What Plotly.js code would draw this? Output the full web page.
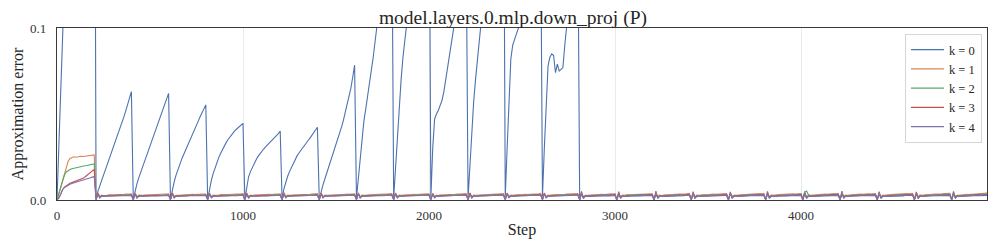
<!DOCTYPE html>
<html>
<head>
<meta charset="utf-8">
<script src="https://cdn.plot.ly/plotly-3.0.1.min.js"></script>
<style>html,body{margin:0;padding:0;background:#fff;}#chart{width:997px;height:249px;}</style>
</head>
<body>
<div id="chart"></div>
<script>
// Step grid (every 10 steps, 0..5000)
var steps = [];
for (var s = 0; s <= 5000; s += 10) steps.push(s);

var seriesNames = ['k = 0', 'k = 1', 'k = 2', 'k = 3', 'k = 4'];
var seriesColors = ['#4C72B0', '#DD8452', '#55A868', '#C44E52', '#8172B3'];

// k = 0
var k0Vals = [
0,.031,.063,.094,.125,.16,.19,.22,.24,.26,.27,.28,.29,.3,.305,.31,.315,.32,.325,.33,.335,
.0004,.005,.0085,.0115,.0145,.0175,.0205,.0235,.0265,.0295,.0325,.0355,.0385,.0415,.045,.0485,.052,.0555,.059,.063,
.0003,.0055,.0095,.013,.016,.019,.022,.0252,.0282,.031,.034,.037,.0398,.0428,.0458,.049,.052,.0552,.0585,.062,
.0003,.006,.0105,.0145,.0178,.0208,.0236,.0262,.0288,.0312,.0338,.0362,.0385,.041,.0435,.046,.0485,.0508,.0532,.0553,
.0003,.0065,.0115,.0155,.019,.022,.0248,.0272,.0295,.0315,.0335,.0352,.0368,.0382,.0395,.0407,.0418,.0428,.0437,.0446,
.0003,.0085,.0135,.0165,.019,.0212,.0233,.0252,.0268,.0282,.0295,.0307,.0318,.0329,.034,.035,.0361,.0372,.0386,.0401,
.0003,.0065,.0105,.0138,.0165,.019,.0213,.0235,.0255,.0272,.0288,.0303,.0318,.0332,.0346,.036,.0375,.039,.0406,.0423,
.0004,.005,.0088,.0122,.0155,.0185,.0215,.0247,.028,.0315,.035,.0387,.0425,.0465,.0507,.055,.0598,.065,.0715,.0785,
.001,.012,.024,.036,.046,.053,.06,.067,.075,.083,.092,.101,.11,.119,.128,.137,.146,.155,.164,.173,
.001,.018,.037,.056,.07,.083,.095,.106,.116,.126,.136,.146,.156,.165,.174,.183,.192,.2,.208,.216,
.001,.03,.047,.05,.052,.055,.058,.063,.07,.077,.084,.091,.098,.105,.112,.119,.126,.133,.14,.147,
.001,.02,.04,.057,.07,.085,.1,.114,.127,.139,.15,.161,.171,.181,.19,.199,.208,.216,.224,.232,
.002,.03,.06,.082,.09,.093,.096,.099,.103,.108,.113,.118,.124,.13,.136,.142,.148,.154,.16,.166,
.002,.03,.06,.078,.083,.085,.084,.074,.079,.075,.076,.077,.09,.1,.115,.125,.135,.145,.155,.165,
.0001,.0050,.0010,.0022,.0020,.0022,.0021,.0023,.0022,.0023,.0023,.0024,.0023,.0024,.0024,.0025,.0024,.0025,.0025,.0026,
.0002,.0048,.0011,.0021,.0020,.0022,.0022,.0023,.0023,.0022,.0024,.0023,.0024,.0024,.0025,.0024,.0025,.0026,.0025,.0026,
.0001,.0051,.0009,.0022,.0021,.0021,.0022,.0022,.0023,.0023,.0024,.0024,.0023,.0025,.0024,.0025,.0025,.0026,.0026,.0027,
.0002,.0049,.0010,.0023,.0020,.0022,.0021,.0023,.0022,.0024,.0023,.0024,.0024,.0025,.0025,.0024,.0026,.0025,.0026,.0026,
.0001,.0047,.0011,.0022,.0021,.0022,.0023,.0022,.0023,.0024,.0024,.0023,.0025,.0024,.0025,.0026,.0025,.0026,.0027,.0026,
.0002,.0050,.0010,.0021,.0020,.0023,.0022,.0023,.0022,.0023,.0024,.0024,.0025,.0024,.0025,.0025,.0026,.0026,.0025,.0027,
.0001,.0048,.0009,.0022,.0021,.0022,.0021,.0022,.0023,.0023,.0023,.0024,.0024,.0025,.0024,.0025,.0026,.0025,.0026,.0027,
.0002,.0051,.0011,.0023,.0020,.0022,.0022,.0023,.0023,.0024,.0023,.0025,.0024,.0025,.0026,.0025,.0026,.0026,.0027,.0026,
.0001,.0049,.0010,.0022,.0021,.0021,.0023,.0022,.0024,.0023,.0024,.0024,.0025,.0025,.0024,.0026,.0025,.0026,.0026,.0027,
.0002,.0047,.0010,.0021,.0020,.0022,.0022,.0023,.0023,.0024,.0024,.0025,.0024,.0025,.0025,.0026,.0026,.0025,.0027,.0027,
.0001,.0050,.0011,.0022,.0021,.0023,.0022,.0022,.0023,.0024,.0023,.0024,.0025,.0025,.0026,.0025,.0026,.0027,.0026,.0027
];

// k = 1
var k1Vals = [
0,.004,.008,.0115,.0148,.019,.0225,.0242,.0248,.0251,.0249,.0252,.0251,.0254,.0253,.0255,.0256,.0255,.0258,.0259,.0262,
.0003,.0041,.0019,.0028,.0026,.0029,.0028,.0030,.0029,.0031,.0030,.0032,.0031,.0032,.0033,.0032,.0034,.0033,.0035,.0036,
.0004,.0039,.0018,.0029,.0027,.0028,.0029,.0031,.0030,.0030,.0031,.0031,.0032,.0033,.0032,.0033,.0034,.0035,.0034,.0036,
.0003,.0042,.0020,.0027,.0028,.0029,.0030,.0029,.0031,.0030,.0032,.0031,.0033,.0032,.0034,.0033,.0034,.0035,.0036,.0035,
.0004,.0040,.0018,.0028,.0027,.0030,.0029,.0031,.0030,.0032,.0031,.0032,.0032,.0033,.0034,.0033,.0035,.0034,.0036,.0037,
.0003,.0041,.0019,.0029,.0026,.0029,.0030,.0029,.0031,.0031,.0032,.0031,.0033,.0033,.0032,.0034,.0034,.0035,.0035,.0036,
.0004,.0043,.0020,.0028,.0027,.0028,.0030,.0030,.0029,.0031,.0032,.0032,.0031,.0033,.0034,.0033,.0034,.0036,.0035,.0037,
.0003,.0040,.0019,.0029,.0028,.0029,.0029,.0031,.0030,.0031,.0031,.0033,.0032,.0032,.0034,.0034,.0033,.0035,.0036,.0036,
.0004,.0042,.0018,.0028,.0027,.0030,.0029,.0030,.0031,.0030,.0032,.0032,.0033,.0032,.0033,.0035,.0034,.0035,.0036,.0037,
.0003,.0041,.0020,.0029,.0027,.0029,.0031,.0030,.0030,.0032,.0031,.0033,.0032,.0034,.0033,.0034,.0035,.0034,.0036,.0036,
.0004,.0039,.0019,.0028,.0026,.0030,.0029,.0031,.0030,.0031,.0032,.0031,.0033,.0033,.0034,.0033,.0035,.0036,.0035,.0037,
.0003,.0042,.0018,.0029,.0028,.0029,.0030,.0030,.0031,.0032,.0031,.0032,.0034,.0033,.0034,.0035,.0034,.0036,.0036,.0037,
.0004,.0041,.0020,.0028,.0027,.0029,.0030,.0031,.0030,.0032,.0032,.0033,.0032,.0034,.0033,.0035,.0035,.0034,.0036,.0038,
.0003,.0040,.0019,.0029,.0027,.0030,.0029,.0030,.0031,.0031,.0033,.0032,.0033,.0034,.0034,.0033,.0035,.0036,.0036,.0037,
.0004,.0042,.0019,.0028,.0028,.0029,.0030,.0031,.0030,.0032,.0031,.0033,.0033,.0032,.0034,.0035,.0035,.0036,.0035,.0037,
.0003,.0041,.0018,.0029,.0027,.0030,.0031,.0030,.0031,.0032,.0032,.0031,.0033,.0034,.0033,.0035,.0034,.0036,.0037,.0036,
.0004,.0043,.0020,.0028,.0026,.0029,.0030,.0030,.0032,.0031,.0032,.0033,.0032,.0034,.0035,.0034,.0036,.0035,.0037,.0038,
.0003,.0040,.0019,.0029,.0028,.0030,.0029,.0031,.0030,.0032,.0033,.0032,.0034,.0033,.0034,.0035,.0036,.0035,.0036,.0037,
.0004,.0042,.0020,.0028,.0027,.0029,.0031,.0030,.0031,.0031,.0032,.0034,.0033,.0034,.0034,.0035,.0035,.0037,.0036,.0038,
.0003,.0041,.0018,.0030,.0027,.0030,.0030,.0031,.0032,.0031,.0033,.0032,.0034,.0035,.0034,.0036,.0035,.0036,.0037,.0037,
.0004,.0039,.0019,.0029,.0028,.0029,.0031,.0031,.0030,.0032,.0033,.0033,.0034,.0033,.0035,.0034,.0036,.0037,.0036,.0038,
.0003,.0042,.0020,.0028,.0027,.0030,.0030,.0032,.0031,.0033,.0032,.0034,.0033,.0035,.0035,.0036,.0035,.0037,.0038,.0037,
.0004,.0041,.0019,.0029,.0028,.0031,.0030,.0031,.0032,.0032,.0034,.0033,.0035,.0034,.0036,.0035,.0037,.0036,.0038,.0039,
.0003,.0043,.0018,.0030,.0027,.0030,.0031,.0032,.0031,.0033,.0033,.0034,.0034,.0036,.0035,.0036,.0037,.0038,.0037,.0039,
.0004,.0040,.0020,.0029,.0028,.0030,.0031,.0031,.0033,.0032,.0034,.0035,.0034,.0035,.0036,.0037,.0036,.0038,.0039,.0040
];

// k = 2
var k2Vals = [
0,.004,.008,.0115,.0145,.0163,.0172,.0177,.0182,.0185,.0188,.019,.0192,.0195,.0197,.0199,.0201,.0203,.0205,.0207,.021,
.0004,.0036,.0017,.0025,.0024,.0026,.0025,.0027,.0026,.0027,.0028,.0027,.0028,.0029,.0028,.0029,.0030,.0029,.0030,.0031,
.0005,.0035,.0016,.0026,.0024,.0025,.0026,.0026,.0027,.0027,.0027,.0028,.0028,.0028,.0029,.0029,.0029,.0030,.0030,.0030,
.0004,.0037,.0017,.0025,.0025,.0026,.0026,.0027,.0026,.0028,.0027,.0028,.0029,.0028,.0029,.0030,.0029,.0030,.0031,.0030,
.0005,.0036,.0018,.0026,.0024,.0026,.0025,.0026,.0027,.0027,.0028,.0028,.0027,.0029,.0029,.0028,.0030,.0030,.0029,.0031,
.0004,.0034,.0017,.0025,.0025,.0025,.0026,.0027,.0027,.0026,.0028,.0027,.0029,.0028,.0029,.0030,.0029,.0031,.0030,.0031,
.0005,.0036,.0016,.0026,.0024,.0026,.0027,.0026,.0027,.0028,.0027,.0029,.0028,.0029,.0030,.0029,.0030,.0030,.0031,.0031,
.0004,.0037,.0017,.0025,.0025,.0026,.0026,.0027,.0028,.0027,.0028,.0028,.0029,.0029,.0028,.0030,.0030,.0031,.0030,.0032,
.0005,.0035,.0018,.0026,.0024,.0025,.0026,.0027,.0026,.0028,.0028,.0027,.0029,.0030,.0029,.0030,.0031,.0030,.0031,.0031,
.0004,.0036,.0017,.0025,.0025,.0026,.0027,.0026,.0028,.0027,.0029,.0028,.0029,.0029,.0030,.0030,.0029,.0031,.0031,.0032,
.0005,.0034,.0016,.0026,.0024,.0026,.0026,.0027,.0027,.0028,.0028,.0029,.0028,.0030,.0029,.0031,.0030,.0031,.0032,.0031,
.0004,.0036,.0017,.0025,.0025,.0027,.0026,.0028,.0027,.0028,.0029,.0028,.0030,.0029,.0030,.0030,.0031,.0031,.0030,.0032,
.0005,.0037,.0018,.0026,.0024,.0026,.0027,.0027,.0028,.0027,.0029,.0029,.0029,.0030,.0030,.0031,.0030,.0032,.0031,.0032,
.0004,.0035,.0017,.0025,.0025,.0026,.0026,.0028,.0027,.0029,.0028,.0030,.0029,.0030,.0031,.0030,.0031,.0031,.0032,.0032,
.0005,.0036,.0016,.0026,.0025,.0027,.0027,.0027,.0028,.0028,.0029,.0029,.0030,.0029,.0031,.0031,.0030,.0032,.0032,.0033,
.0004,.0034,.0017,.0025,.0024,.0026,.0027,.0028,.0027,.0029,.0028,.0030,.0029,.0031,.0030,.0031,.0032,.0031,.0032,.0033,
.0005,.0036,.0018,.0026,.0025,.0026,.0027,.0027,.0028,.0029,.0029,.0029,.0030,.0030,.0031,.0030,.0032,.0032,.0031,.0033,
.0004,.0037,.0017,.0025,.0025,.0027,.0026,.0028,.0028,.0028,.0030,.0029,.0031,.0030,.0031,.0032,.0031,.0032,.0033,.0033,
.0005,.0035,.0016,.0026,.0024,.0026,.0027,.0028,.0027,.0029,.0029,.0030,.0030,.0031,.0030,.0032,.0031,.0033,.0032,.0033,
.0004,.0036,.0017,.0025,.0025,.0027,.0027,.0027,.0028,.0029,.0030,.0029,.0031,.0030,.0032,.0031,.0032,.0032,.0033,.0034,
.0006,.0046,.0052,.0030,.0025,.0026,.0027,.0028,.0029,.0028,.0030,.0030,.0030,.0031,.0031,.0032,.0032,.0033,.0032,.0034,
.0005,.0036,.0018,.0026,.0025,.0027,.0027,.0028,.0028,.0029,.0029,.0030,.0031,.0030,.0032,.0031,.0033,.0032,.0033,.0034,
.0004,.0035,.0017,.0025,.0025,.0026,.0028,.0027,.0029,.0028,.0030,.0030,.0031,.0031,.0031,.0032,.0032,.0033,.0034,.0033,
.0005,.0037,.0016,.0026,.0024,.0027,.0027,.0028,.0028,.0029,.0030,.0029,.0031,.0032,.0031,.0033,.0032,.0033,.0034,.0034,
.0004,.0036,.0017,.0025,.0025,.0027,.0028,.0028,.0029,.0029,.0030,.0031,.0030,.0032,.0032,.0032,.0033,.0034,.0033,.0035
];

// k = 3
var k3Vals = [
0,.0012,.0035,.006,.0074,.0083,.009,.0097,.0101,.0105,.0109,.0113,.0117,.0121,.0126,.0134,.0143,.0152,.016,.0169,.0178,
.0002,.0038,.0014,.0024,.0022,.0024,.0023,.0025,.0024,.0025,.0026,.0025,.0026,.0026,.0027,.0026,.0027,.0028,.0027,.0028,
.0003,.0036,.0013,.0023,.0023,.0023,.0024,.0024,.0025,.0025,.0025,.0026,.0026,.0025,.0027,.0027,.0026,.0027,.0028,.0028,
.0002,.0039,.0015,.0024,.0022,.0024,.0024,.0025,.0024,.0026,.0025,.0026,.0027,.0026,.0027,.0028,.0027,.0028,.0028,.0029,
.0003,.0037,.0014,.0023,.0023,.0024,.0023,.0024,.0025,.0025,.0026,.0025,.0026,.0027,.0026,.0027,.0028,.0027,.0029,.0028,
.0002,.0038,.0013,.0024,.0022,.0023,.0024,.0025,.0025,.0024,.0026,.0026,.0025,.0027,.0027,.0026,.0028,.0028,.0027,.0029,
.0003,.0036,.0015,.0023,.0023,.0024,.0024,.0024,.0025,.0026,.0025,.0026,.0027,.0026,.0027,.0028,.0028,.0027,.0029,.0029,
.0002,.0039,.0014,.0024,.0022,.0024,.0023,.0025,.0024,.0025,.0026,.0026,.0026,.0027,.0027,.0027,.0028,.0029,.0028,.0029,
.0003,.0037,.0013,.0023,.0023,.0023,.0024,.0025,.0025,.0025,.0025,.0027,.0026,.0027,.0028,.0027,.0028,.0028,.0029,.0029,
.0002,.0038,.0015,.0024,.0022,.0024,.0024,.0024,.0026,.0025,.0026,.0026,.0027,.0027,.0027,.0028,.0028,.0029,.0029,.0030,
.0003,.0036,.0014,.0023,.0023,.0024,.0023,.0025,.0025,.0026,.0026,.0027,.0026,.0028,.0027,.0028,.0029,.0028,.0029,.0030,
.0002,.0039,.0013,.0024,.0022,.0023,.0024,.0025,.0025,.0025,.0026,.0026,.0027,.0027,.0028,.0028,.0028,.0029,.0030,.0029,
.0003,.0037,.0015,.0023,.0023,.0024,.0024,.0024,.0026,.0026,.0027,.0026,.0028,.0027,.0028,.0029,.0028,.0030,.0029,.0030,
.0002,.0038,.0014,.0024,.0022,.0024,.0025,.0025,.0025,.0026,.0026,.0027,.0027,.0028,.0028,.0028,.0029,.0029,.0030,.0030,
.0003,.0036,.0013,.0023,.0023,.0023,.0024,.0025,.0026,.0025,.0027,.0027,.0028,.0027,.0029,.0028,.0029,.0030,.0029,.0031,
.0002,.0039,.0015,.0024,.0022,.0024,.0025,.0024,.0026,.0026,.0027,.0027,.0027,.0028,.0028,.0029,.0029,.0030,.0030,.0031,
.0003,.0037,.0014,.0023,.0023,.0024,.0024,.0025,.0025,.0027,.0026,.0028,.0027,.0029,.0028,.0029,.0030,.0029,.0031,.0030,
.0002,.0038,.0013,.0024,.0022,.0023,.0025,.0025,.0026,.0026,.0027,.0027,.0028,.0028,.0029,.0029,.0029,.0030,.0031,.0031,
.0003,.0036,.0015,.0023,.0023,.0024,.0024,.0026,.0025,.0027,.0027,.0028,.0028,.0028,.0029,.0030,.0029,.0031,.0030,.0031,
.0002,.0039,.0014,.0024,.0022,.0024,.0025,.0025,.0026,.0026,.0028,.0027,.0029,.0028,.0030,.0029,.0030,.0031,.0031,.0032,
.0003,.0037,.0013,.0023,.0023,.0024,.0025,.0026,.0026,.0027,.0027,.0028,.0028,.0029,.0029,.0030,.0030,.0030,.0031,.0032,
.0002,.0038,.0015,.0024,.0022,.0024,.0024,.0025,.0026,.0027,.0027,.0028,.0029,.0028,.0030,.0029,.0031,.0030,.0032,.0031,
.0003,.0036,.0014,.0023,.0023,.0023,.0025,.0026,.0025,.0027,.0028,.0027,.0029,.0029,.0029,.0030,.0030,.0031,.0031,.0032,
.0002,.0039,.0013,.0024,.0022,.0024,.0025,.0025,.0026,.0026,.0027,.0028,.0028,.0029,.0030,.0030,.0031,.0030,.0032,.0032,
.0003,.0037,.0015,.0023,.0023,.0024,.0024,.0026,.0026,.0027,.0027,.0028,.0029,.0029,.0030,.0031,.0030,.0031,.0032,.0033
];

// k = 4
var k4Vals = [
0,.0012,.0035,.006,.0073,.0081,.0087,.0092,.0096,.0099,.0102,.0105,.0107,.011,.0113,.0117,.0121,.0125,.0129,.0133,.0137,
.0002,.0035,.0012,.0023,.0021,.0023,.0022,.0023,.0023,.0024,.0024,.0025,.0024,.0025,.0025,.0026,.0025,.0026,.0026,.0027,
.0001,.0037,.0011,.0022,.0021,.0022,.0023,.0022,.0023,.0023,.0024,.0024,.0025,.0024,.0025,.0025,.0026,.0026,.0025,.0027,
.0002,.0034,.0012,.0023,.0020,.0023,.0022,.0023,.0024,.0023,.0024,.0025,.0024,.0025,.0026,.0025,.0026,.0026,.0027,.0026,
.0001,.0036,.0013,.0022,.0021,.0022,.0022,.0023,.0023,.0024,.0023,.0024,.0025,.0025,.0024,.0026,.0025,.0026,.0027,.0027,
.0002,.0035,.0011,.0023,.0021,.0023,.0023,.0022,.0024,.0023,.0024,.0024,.0025,.0025,.0026,.0025,.0026,.0027,.0026,.0027,
.0001,.0037,.0012,.0022,.0020,.0022,.0022,.0023,.0023,.0024,.0024,.0025,.0024,.0026,.0025,.0026,.0026,.0026,.0027,.0028,
.0002,.0034,.0013,.0023,.0021,.0023,.0022,.0024,.0023,.0024,.0025,.0024,.0025,.0025,.0026,.0026,.0027,.0026,.0027,.0027,
.0001,.0036,.0011,.0022,.0021,.0022,.0023,.0023,.0024,.0023,.0024,.0025,.0025,.0026,.0025,.0026,.0027,.0027,.0026,.0028,
.0002,.0035,.0012,.0023,.0020,.0023,.0022,.0023,.0024,.0024,.0025,.0024,.0026,.0025,.0026,.0027,.0026,.0027,.0028,.0027,
.0001,.0037,.0013,.0022,.0021,.0022,.0023,.0024,.0023,.0024,.0024,.0025,.0025,.0026,.0026,.0026,.0027,.0027,.0028,.0028,
.0002,.0034,.0011,.0023,.0021,.0023,.0023,.0023,.0024,.0025,.0024,.0026,.0025,.0026,.0027,.0026,.0027,.0028,.0027,.0028,
.0001,.0036,.0012,.0022,.0020,.0022,.0022,.0024,.0024,.0024,.0025,.0025,.0026,.0026,.0026,.0027,.0028,.0027,.0028,.0029,
.0002,.0035,.0013,.0023,.0021,.0023,.0023,.0023,.0024,.0025,.0025,.0026,.0025,.0027,.0026,.0027,.0027,.0028,.0028,.0029,
.0001,.0037,.0011,.0022,.0021,.0022,.0023,.0024,.0024,.0024,.0026,.0025,.0026,.0026,.0027,.0028,.0027,.0028,.0029,.0028,
.0002,.0034,.0012,.0023,.0020,.0023,.0022,.0024,.0025,.0025,.0025,.0026,.0026,.0027,.0027,.0027,.0028,.0028,.0029,.0029,
.0001,.0036,.0013,.0022,.0021,.0022,.0023,.0023,.0024,.0025,.0026,.0025,.0027,.0026,.0027,.0028,.0028,.0029,.0028,.0029,
.0002,.0035,.0011,.0023,.0021,.0023,.0023,.0024,.0024,.0025,.0025,.0026,.0026,.0027,.0028,.0027,.0028,.0029,.0029,.0030,
.0001,.0037,.0012,.0022,.0020,.0022,.0023,.0024,.0025,.0024,.0026,.0026,.0027,.0027,.0027,.0028,.0029,.0028,.0029,.0030,
.0002,.0034,.0013,.0023,.0021,.0023,.0022,.0024,.0024,.0025,.0026,.0025,.0026,.0027,.0028,.0028,.0028,.0029,.0030,.0029,
.0001,.0036,.0011,.0022,.0021,.0022,.0023,.0023,.0025,.0025,.0025,.0026,.0027,.0027,.0028,.0029,.0028,.0029,.0030,.0030,
.0002,.0035,.0012,.0023,.0020,.0023,.0023,.0024,.0024,.0026,.0026,.0027,.0026,.0028,.0027,.0028,.0029,.0030,.0029,.0030,
.0001,.0037,.0013,.0022,.0021,.0022,.0024,.0024,.0025,.0025,.0026,.0026,.0027,.0028,.0028,.0028,.0029,.0029,.0030,.0031,
.0002,.0034,.0011,.0023,.0021,.0023,.0023,.0024,.0025,.0026,.0025,.0027,.0027,.0027,.0028,.0029,.0029,.0030,.0030,.0031,
.0001,.0036,.0012,.0022,.0020,.0023,.0024,.0024,.0025,.0025,.0026,.0027,.0028,.0027,.0029,.0028,.0030,.0030,.0031,.0031
];

var allVals = [k0Vals, k1Vals, k2Vals, k3Vals, k4Vals];

var traces = allVals.map(function (vals, i) {
  return {
    type: 'scatter',
    mode: 'lines',
    x: steps,
    y: vals,
    name: seriesNames[i],
    line: { color: seriesColors[i], width: 1.1 }
  };
});

var serif = 'Liberation Serif, serif';

var layout = {
  width: 997,
  height: 249,
  margin: { l: 57, r: 10, t: 28, b: 49, pad: 0 },
  paper_bgcolor: '#ffffff',
  plot_bgcolor: '#ffffff',
  font: { family: serif, color: '#262626', size: 13 },
  showlegend: true,
  title: {
    text: 'model.layers.0.mlp.down_proj (P)',
    font: { family: serif, size: 19.5, color: '#262626' },
    xref: 'container', x: 0.5145, xanchor: 'center',
    yref: 'container', y: 0.905, yanchor: 'bottom'
  },
  xaxis: {
    range: [0, 5000],
    tick0: 0, dtick: 1000,
    showgrid: true, gridcolor: '#ebebeb', gridwidth: 1,
    zeroline: false,
    showline: true, mirror: true, linecolor: '#3a3a3a', linewidth: 1.2,
    ticks: '', ticklabelstandoff: 3,
    tickfont: { family: serif, size: 13, color: '#333333' },
    title: { text: 'Step', font: { family: serif, size: 16, color: '#262626' }, standoff: 2 },
    automargin: false
  },
  yaxis: {
    range: [0, 0.1],
    tickvals: [0, 0.1], ticktext: ['0.0', '0.1'],
    showgrid: true, gridcolor: '#ebebeb',
    zeroline: false,
    showline: true, mirror: true, linecolor: '#3a3a3a', linewidth: 1.2,
    ticks: '', ticklabelstandoff: 7,
    tickfont: { family: serif, size: 13, color: '#333333' },
    title: { text: 'Approximation error', font: { family: serif, size: 16, color: '#262626' }, standoff: 2 },
    automargin: false
  },
  legend: {
    x: 0.9946, xanchor: 'right',
    y: 0.965, yanchor: 'top',
    bgcolor: '#ffffff',
    bordercolor: '#d6d6d6', borderwidth: 1,
    font: { family: serif, size: 12.5, color: '#262626' },
    itemwidth: 33
  }
};

Plotly.newPlot('chart', traces, layout, { displayModeBar: false, staticPlot: true });
</script>
</body>
</html>
